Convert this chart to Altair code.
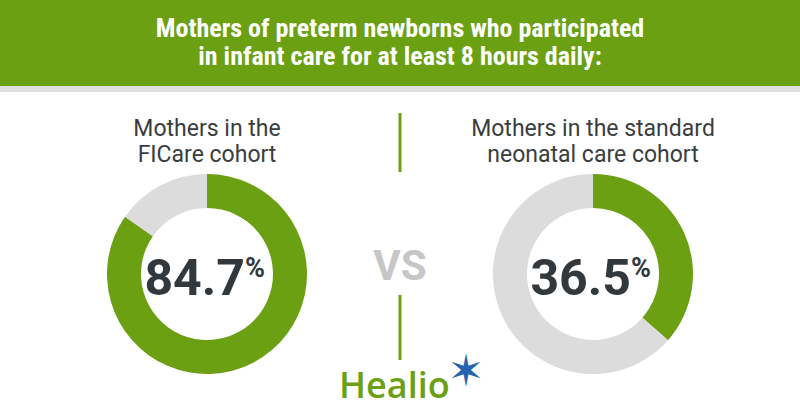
import altair as alt
import pandas as pd

# ---- data ----
cohorts = ["FICare", "Standard"]
participated = [84.7, 36.5]
labels_line1 = ["Mothers in the", "Mothers in the standard"]
labels_line2 = ["FICare cohort", "neonatal care cohort"]
title_lines = ["Mothers of preterm newborns who participated",
               "in infant care for at least 8 hours daily:"]

GREEN = "#6aa011"
GRAY = "#dcdcdc"
DARK = "#33383d"

rows = []
for c, v in zip(cohorts, participated):
    rows.append({"cohort": c, "part": "yes", "value": v, "ord": 0})
    rows.append({"cohort": c, "part": "no", "value": round(100 - v, 1), "ord": 1})
df = pd.DataFrame(rows)
num_df = pd.DataFrame({"cohort": cohorts, "value": participated,
                       "l1": labels_line1, "l2": labels_line2})
num_df["txt"] = num_df["value"].map(lambda v: f"{v:.1f}")

centers = {"FICare": 207, "Standard": 593}
CY = 274

layers = []
one = pd.DataFrame({"a": [0]})
# header band
layers.append(alt.Chart(one).mark_rect(color=GREEN).encode(
    x=alt.value(0), x2=alt.value(800), y=alt.value(0), y2=alt.value(86)))
layers.append(alt.Chart(one).mark_rect(color="#dedede").encode(
    x=alt.value(0), x2=alt.value(800), y=alt.value(86), y2=alt.value(92)))
for i, t in enumerate(title_lines):
    layers.append(alt.Chart(pd.DataFrame({"t": [t]})).mark_text(
        font="Liberation Sans Narrow, Roboto Condensed, Roboto", fontWeight="bold",
        fontSize=26, color="white", align="center", baseline="alphabetic").encode(
        text="t:N", x=alt.value(400), y=alt.value(37 + 28 * i)))

for c in cohorts:
    cx = centers[c]
    d = df[df.cohort == c]
    layers.append(alt.Chart(d).mark_arc(innerRadius=66, outerRadius=100, stroke=None).encode(
        theta=alt.Theta("value:Q", stack=True, scale=alt.Scale(domain=[0, 100])),
        order=alt.Order("ord:Q"),
        color=alt.Color("part:N", scale=alt.Scale(domain=["yes", "no"], range=[GREEN, GRAY]), legend=None),
        x=alt.value(cx), y=alt.value(CY)))
    nd = num_df[num_df.cohort == c]
    layers.append(alt.Chart(nd).mark_text(
        font="Roboto", fontWeight="bold", fontSize=50, color=DARK, align="right",
        baseline="alphabetic").encode(text="txt:N", x=alt.value(cx + 38), y=alt.value(CY + 21)))
    layers.append(alt.Chart(nd).mark_text(
        font="Roboto", fontWeight="bold", fontSize=27, color=DARK, align="left",
        baseline="top", text="%").encode(x=alt.value(cx + 38), y=alt.value(CY - 18)))
    layers.append(alt.Chart(nd).mark_text(
        font="Roboto", fontSize=23, color="#3a3d40", align="center",
        baseline="alphabetic").encode(text="l1:N", x=alt.value(cx), y=alt.value(136)))
    layers.append(alt.Chart(nd).mark_text(
        font="Roboto", fontSize=23, color="#3a3d40", align="center",
        baseline="alphabetic").encode(text="l2:N", x=alt.value(cx), y=alt.value(162)))

# divider
layers.append(alt.Chart(one).mark_rule(color=GREEN, strokeWidth=3).encode(
    x=alt.value(400), y=alt.value(113), y2=alt.value(172)))
layers.append(alt.Chart(one).mark_rule(color=GREEN, strokeWidth=3).encode(
    x=alt.value(400), y=alt.value(295), y2=alt.value(360)))
layers.append(alt.Chart(one).mark_text(
    font="Roboto", fontWeight="bold", fontSize=42, color="#c6c6c6", align="center",
    baseline="alphabetic", text="VS").encode(x=alt.value(400), y=alt.value(280)))
# logo
layers.append(alt.Chart(one).mark_text(
    font="Open Sans", fontWeight=600, fontSize=36, color=GREEN, align="left",
    baseline="alphabetic", text="Healio").encode(x=alt.value(339), y=alt.value(398)))
layers.append(alt.Chart(one).mark_text(
    font="DejaVu Sans", fontSize=44, color="#2463ad", align="center",
    baseline="middle", text="✶").encode(x=alt.value(466), y=alt.value(373)))

chart = alt.layer(*layers).properties(
    width=800, height=420, padding=0, autosize=alt.AutoSizeParams(type="none"),
    background="white"
).configure_view(stroke=None)

chart.save("out.html", embed_options={"renderer": "svg", "actions": False})
